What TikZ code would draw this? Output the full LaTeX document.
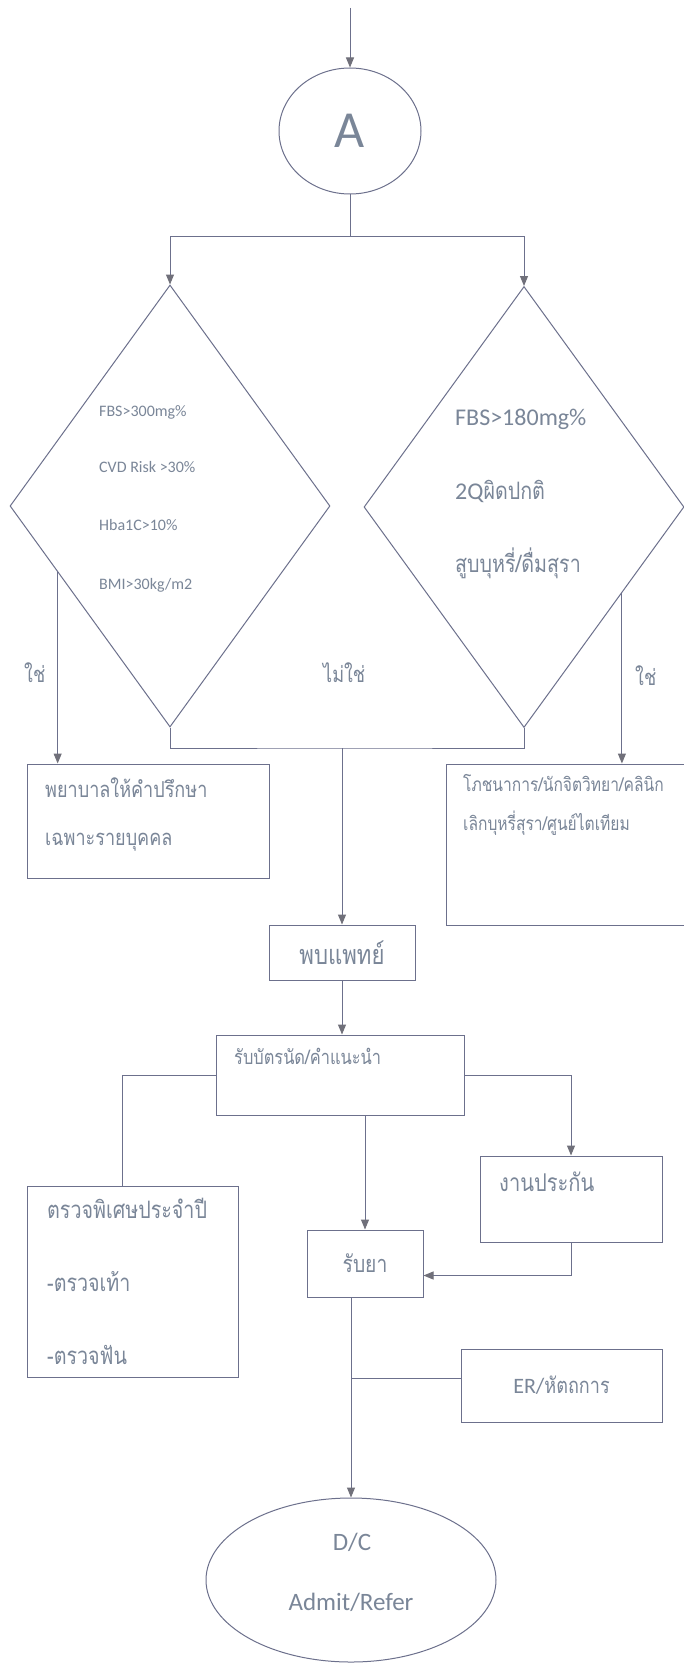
\documentclass[tikz,border=0pt]{standalone}
\usepackage{fontspec}
\setmainfont{Carlito}
\newfontfamily\thai[Script=Thai,FakeStretch=0.82]{Loma}
\usetikzlibrary{arrows.meta,shapes.geometric,calc}

\definecolor{linec}{RGB}{108,112,140}
\definecolor{txtc}{RGB}{122,134,152}
\definecolor{tipc}{RGB}{112,112,122}

\begin{document}
\begin{tikzpicture}[x=1pt,y=-1pt,
    ln/.style={draw=linec,line width=1pt},
    arr/.style={ln,-{Triangle[length=10pt,width=8pt,color=tipc]}},
    box/.style={draw=linec,line width=1pt,inner sep=0pt},
    txt/.style={text=txtc,inner sep=0pt,anchor=mid west},
    th/.style={font=\thai\fontsize{#1}{#1}\selectfont},
    lt/.style={font=\fontsize{#1}{#1}\selectfont}]

    \fill[white] (0,0) rectangle (684,1664);
    \useasboundingbox (0,0) rectangle (684,1664);

    % connector A
    \coordinate (in) at (350,8);
    \node[box,ellipse,minimum width=142pt,minimum height=126pt,text=txtc,lt=52] (circA) at (350,131) {A};
    \draw[arr] (in) -- (circA.north);

    % the two checks
    \node[box,diamond,minimum width=320pt,minimum height=442pt] (ldia) at (170,506) {};
    \node[box,diamond,minimum width=320pt,minimum height=441pt] (rdia) at (524,507) {};
    \coordinate (split) at (350,236);
    \draw[ln] (circA.south) -- (split);
    \draw[arr] (split) -| (ldia.north);
    \draw[arr] (split) -| (rdia.north);

    \node[txt,lt=16] (fbsA) at (99,414) {FBS>300mg\%};
    \node[txt,lt=16] (cvd) at (99,470) {CVD Risk >30\%};
    \node[txt,lt=16] (hba) at (99,528) {Hba1C>10\%};
    \node[txt,lt=16] (bmi) at (99,587) {BMI>30kg/m2};

    \node[txt,lt=24] (fbsB) at (455,423) {FBS>180mg\%};
    \node[txt,lt=24] (twoq) at (455,497) {2Q{\thai ผิดปกติ}};
    \node[txt,th=24] (smoke) at (455,570) {สูบบุหรี่/ดื่มสุรา};

    \node[txt,th=22] (yesL) at (24,680) {ใช่};
    \node[txt,th=22] (noM) at (323,680) {ไม่ใช่};
    \node[txt,th=22] (yesR) at (635,683) {ใช่};

    % yes branches
    \coordinate (lyes) at ($(ldia.west)!0.3!(ldia.south)$);
    \coordinate (ryes) at ($(rdia.east)!0.39!(rdia.south)$);
    \node[box,minimum width=242pt,minimum height=114pt] (nurse) at (148,821) {};
    \node[box,minimum width=254pt,minimum height=161pt] (diet) at (573,844.5) {};
    \draw[arr] (lyes) -- (lyes |- nurse.north);
    \draw[arr] (ryes) -- (ryes |- diet.north);

    \node[txt,th=22] (nurseA) at (45,795) {พยาบาลให้คำปรึกษา};
    \node[txt,th=22] (nurseB) at (45,843) {เฉพาะรายบุคคล};
    \node[txt,th=19] (dietA) at (463,789) {โภชนาการ/นักจิตวิทยา/คลินิก};
    \node[txt,th=19] (dietB) at (463,828) {เลิกบุหรี่สุรา/ศูนย์ไตเทียม};

    % no branch
    \coordinate (join) at (342,748);
    \draw[ln] (ldia.south) |- (join) -| (rdia.south);
    \node[box,minimum width=146pt,minimum height=55pt,text=txtc,th=27] (doc) at (342,952.5) {พบแพทย์};
    \draw[arr] (join) -- (doc.north);

    \node[box,minimum width=248pt,minimum height=80pt] (appt) at (340,1075) {};
    \node[txt,th=20] (apptT) at (234,1062) {รับบัตรนัด/คำแนะนำ};
    \draw[arr] (doc.south) -- (doc.south |- appt.north);

    \node[box,minimum width=182pt,minimum height=86pt] (ins) at (571,1199) {};
    \node[txt,th=24.5] (insT) at (499,1189) {งานประกัน};
    \node[box,minimum width=211pt,minimum height=191pt] (annual) at (132.5,1281.5) {};
    \node[txt,th=24] (annA) at (47,1216) {ตรวจพิเศษประจำปี};
    \node[txt,th=24] (annB) at (47,1289) {-ตรวจเท้า};
    \node[txt,th=24] (annC) at (47,1362) {-ตรวจฟัน};
    \node[box,minimum width=116pt,minimum height=67pt,text=txtc,th=23.5] (drug) at (365,1263.5) {รับยา};
    \node[box,minimum width=201pt,minimum height=73pt,text=txtc,lt=22] (er) at (561.5,1385.5) {ER/{\thai หัตถการ}};

    \draw[ln] (appt.west) -| ([xshift=-10pt]annual.north);
    \draw[arr] (appt.east) -| (ins.north);
    \draw[arr] (drug.north |- appt.south) -- (drug.north);
    \draw[arr] (ins.south) |- ([yshift=-12pt]drug.east);

    % end
    \node[box,ellipse,minimum width=290pt,minimum height=164pt] (fin) at (351,1580) {};
    \node[txt,anchor=mid,lt=25] (dc) at (352,1548) {D/C};
    \node[txt,anchor=mid,lt=25] (adm) at (351,1608) {Admit/Refer};
    \draw[arr] (drug.south -| fin.north) -- (fin.north);
    \coordinate (erin) at ([yshift=7pt]er.west);
    \draw[ln] (erin) -- (erin -| fin.north);
\end{tikzpicture}
\end{document}
